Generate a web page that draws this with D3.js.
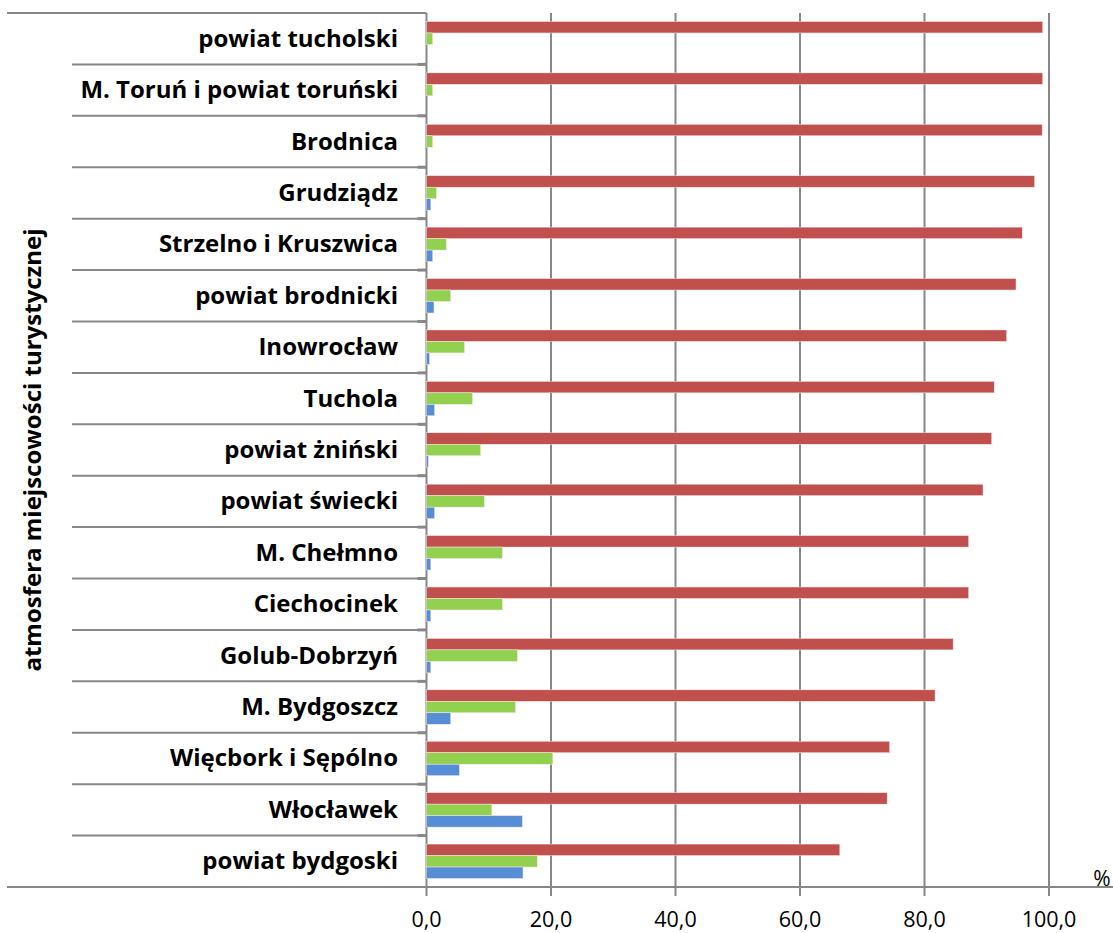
<!DOCTYPE html>
<html>
<head>
<meta charset="utf-8">
<script src="https://cdn.jsdelivr.net/npm/d3@7"></script>
<style>
body { margin: 0; background: #fff; }
</style>
</head>
<body>
<script>
var svgWidth = 1113;
var svgHeight = 933;

var categories = ["powiat tucholski", "M. Toruń i powiat toruński", "Brodnica", "Grudziądz",
    "Strzelno i Kruszwica", "powiat brodnicki", "Inowrocław", "Tuchola", "powiat żniński",
    "powiat świecki", "M. Chełmno", "Ciechocinek", "Golub-Dobrzyń", "M. Bydgoszcz",
    "Więcbork i Sępólno", "Włocławek", "powiat bydgoski"];
var redValues = [99.0, 99.0, 98.9, 97.7, 95.7, 94.7, 93.2, 91.2, 90.8, 89.4, 87.1, 87.1, 84.6, 81.7, 74.4, 74.0, 66.4];
var greenValues = [1.0, 1.0, 1.0, 1.6, 3.2, 3.9, 6.1, 7.4, 8.7, 9.3, 12.2, 12.2, 14.6, 14.3, 20.3, 10.5, 17.8];
var blueValues = [0, 0, 0, 0.7, 1.0, 1.2, 0.5, 1.3, 0.3, 1.3, 0.7, 0.7, 0.7, 3.9, 5.3, 15.4, 15.5];
var tickValues = [0, 20, 40, 60, 80, 100];
var seriesNames = ["red", "green", "blue"];
var seriesColors = ["#C0504D", "#92D050", "#558ED5"];
var groupTitle = "atmosfera miejscowości turystycznej";

var gridColor = "#878787";
var plotTop = 13, plotBottom = 887, plotLeft = 426.5, plotRight = 1049;

var svg = d3.select("body")
    .append("svg")
    .attr("width", svgWidth)
    .attr("height", svgHeight)
    .style("font-family", "'Open Sans', Lato, sans-serif");

var x = d3.scaleLinear().domain([0, 100]).range([plotLeft, plotRight]);
var y = d3.scaleBand().domain(categories).range([plotTop, plotBottom]).paddingInner(0.33).paddingOuter(0.165);
var ySub = d3.scaleBand().domain(seriesNames).range([0, y.bandwidth()]);

// vertical gridlines (with tick stubs below the axis)
svg.selectAll("line.grid")
    .data(tickValues)
    .enter()
    .append("line")
    .attr("class", "grid")
    .attr("x1", function (d) { return x(d); })
    .attr("x2", function (d) { return x(d); })
    .attr("y1", plotTop)
    .attr("y2", plotBottom + 9)
    .attr("stroke", gridColor)
    .attr("stroke-width", 2);

// bars
var rows = categories.map(function (c, i) {
    return { cat: c, vals: [redValues[i], greenValues[i], blueValues[i]] };
});
var group = svg.selectAll("g.row")
    .data(rows)
    .enter()
    .append("g")
    .attr("class", "row")
    .attr("transform", function (d) { return "translate(0," + y(d.cat) + ")"; });
group.selectAll("rect")
    .data(function (d) { return d.vals; })
    .enter()
    .append("rect")
    .attr("x", x(0))
    .attr("y", function (d, i) { return ySub(seriesNames[i]); })
    .attr("width", function (d) { return x(d) - x(0); })
    .attr("height", ySub.bandwidth())
    .attr("fill", function (d, i) { return seriesColors[i]; })
    .attr("stroke", "#fbe9e9")
    .attr("stroke-width", 0.5);

// category separators
var step = y.step();
var bounds = d3.range(categories.length + 1).map(function (i) { return plotTop + i * step; });
svg.selectAll("line.sep")
    .data(bounds)
    .enter()
    .append("line")
    .attr("class", "sep")
    .attr("x1", function (d, i) { return (i === 0 || i === categories.length) ? 7 : 72; })
    .attr("x2", function (d, i) { return i === categories.length ? svgWidth : plotLeft; })
    .attr("y1", function (d) { return d; })
    .attr("y2", function (d) { return d; })
    .attr("stroke", gridColor)
    .attr("stroke-width", 2);

// category tick stubs
svg.selectAll("line.stub")
    .data(bounds.slice(1, -1))
    .enter()
    .append("line")
    .attr("class", "stub")
    .attr("x1", plotLeft - 9)
    .attr("x2", plotLeft)
    .attr("y1", function (d) { return d; })
    .attr("y2", function (d) { return d; })
    .attr("stroke", gridColor)
    .attr("stroke-width", 3);

// category labels
svg.selectAll("text.cat")
    .data(categories)
    .enter()
    .append("text")
    .attr("class", "cat")
    .text(function (d) { return d; })
    .attr("x", 398)
    .attr("y", function (d) { return y(d) + y.bandwidth() / 2 + 8; })
    .attr("text-anchor", "end")
    .attr("font-size", "24px")
    .attr("font-weight", "bold")
    .attr("fill", "#000");

// tick labels
svg.selectAll("text.tick")
    .data(tickValues)
    .enter()
    .append("text")
    .attr("class", "tick")
    .text(function (d) { return d.toFixed(1).replace(".", ","); })
    .attr("x", function (d) { return x(d); })
    .attr("y", 927)
    .attr("text-anchor", "middle")
    .attr("font-size", "21.5px")
    .attr("fill", "#000");

svg.append("text")
    .text("%")
    .attr("x", 1102)
    .attr("y", 886)
    .attr("text-anchor", "middle")
    .attr("font-size", "21px")
    .attr("fill", "#000");

svg.append("text")
    .text(groupTitle)
    .attr("transform", "translate(41,450) rotate(-90)")
    .attr("text-anchor", "middle")
    .attr("font-size", "24px")
    .attr("font-weight", "bold")
    .attr("fill", "#000");
</script>
</body>
</html>
